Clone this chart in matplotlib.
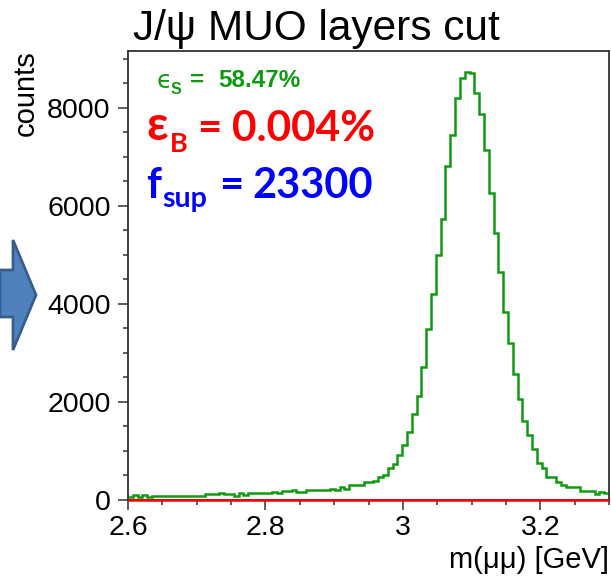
import numpy as np
import matplotlib
matplotlib.use("Agg")
import matplotlib.pyplot as plt
from matplotlib.patches import Polygon
from matplotlib.ticker import FixedLocator, MultipleLocator

# ---- histogram definition -------------------------------------------------
x_min, x_max, n_bins = 2.6, 3.3, 100

# signal candidates passing the MUO-layers cut (counts per 7 MeV bin)
sig_counts = [
    68, 95, 61, 95, 61, 88, 88, 88, 88, 88,
    88, 88, 88, 88, 88, 88, 116, 116, 116, 140,
    115, 115, 80, 137, 110, 143, 143, 143, 143, 143,
    172, 150, 175, 175, 205, 172, 172, 206, 206, 206,
    206, 206, 230, 200, 255, 225, 300, 300, 300, 357,
    357, 394, 463, 515, 647, 735, 910, 1130, 1394, 1749,
    2123, 2708, 3490, 4198, 4990, 5729, 6803, 7443, 8190, 8607,
    8721, 8718, 8301, 7872, 7129, 6260, 5443, 4643, 3843, 3204,
    2572, 2055, 1602, 1316, 1041, 749, 647, 476, 476, 374,
    306, 259, 259, 259, 184, 184, 184, 122, 170, 137,
]
# background remaining after the cut (empty at this scale)
bkg_counts = [0] * n_bins

x_ticks = [2.6, 2.8, 3.0, 3.2]
x_tick_labels = ["2.6", "2.8", "3", "3.2"]
y_ticks = [0, 2000, 4000, 6000, 8000]
y_tick_labels = ["0", "2000", "4000", "6000", "8000"]

title = "J/\u03c8 MUO layers cut"
x_title = "m(\u03bc\u03bc) [GeV]"
y_title = "counts"

eff_sig = "58.47%"
eff_bkg = "0.004%"
f_sup = "23300"

# ---- style ------------------------------------------------------------------
GREEN = "#119911"
AXIS = "#333333"
ROOT_FONT = ["Liberation Sans", "DejaVu Sans"]
SLIDE_FONT = ["Lato", "DejaVu Sans"]

W, H = 611, 577
fig = plt.figure(figsize=(W / 100, H / 100), dpi=100)


def fx(x):
    return x / W


def fy(y):
    return 1 - y / H


ax = fig.add_axes([fx(128), fy(500), fx(609) - fx(128), fy(51) - fy(500)])

edges = np.linspace(x_min, x_max, n_bins + 1)
ax.stairs(sig_counts, edges, color=GREEN, lw=1.8, baseline=None, zorder=2)
ax.stairs(bkg_counts, edges, color="#ff0000", lw=1.8, baseline=None,
          zorder=4, clip_on=False)

ax.set_xlim(x_min, x_max)
ax.set_ylim(0, max(sig_counts) * 1.05)

ax.xaxis.set_major_locator(FixedLocator(x_ticks))
ax.xaxis.set_minor_locator(MultipleLocator(0.05))
ax.set_xticklabels(x_tick_labels)
ax.yaxis.set_major_locator(FixedLocator(y_ticks))
ax.yaxis.set_minor_locator(MultipleLocator(500))
ax.set_yticklabels(y_tick_labels)

for sp in ax.spines.values():
    sp.set_color(AXIS)
    sp.set_linewidth(1.3)

ax.tick_params(which="both", direction="out", color=AXIS, width=1.1,
               top=False, right=False)
ax.tick_params(which="major", length=7)
ax.tick_params(which="minor", length=3.6)
ax.tick_params(axis="x", which="major", pad=3.5, labelsize=20.5)
ax.tick_params(axis="y", which="major", pad=5.5, labelsize=20.5)
for lab in ax.get_xticklabels() + ax.get_yticklabels():
    lab.set_family(ROOT_FONT)

# ---- titles -------------------------------------------------------------------
fig.text(fx(133), fy(40), title, family=ROOT_FONT, fontsize=30.5,
         ha="left", va="baseline", color="black")
fig.text(fx(609), fy(568), x_title, family=ROOT_FONT, fontsize=21,
         ha="right", va="baseline", color="black")
fig.text(fx(34), fy(50), y_title, family=ROOT_FONT, fontsize=21,
         rotation=90, rotation_mode="anchor", ha="right", va="baseline",
         color="black")

# ---- efficiency labels -----------------------------------------------------
# signal efficiency
fig.text(fx(157), fy(87.5), "\u03f5", family=["DejaVu Sans"], fontsize=18,
         color=GREEN, ha="left", va="baseline")
fig.text(fx(171), fy(94), "S", family=ROOT_FONT, fontsize=11.5,
         fontweight="bold", color=GREEN, ha="left", va="baseline")
fig.text(fx(190), fy(87), "=", family=ROOT_FONT, fontsize=17.5,
         fontweight="bold", color=GREEN, ha="left", va="baseline")
fig.text(fx(218), fy(87), eff_sig, family=ROOT_FONT, fontsize=17.5,
         fontweight="bold", color=GREEN, ha="left", va="baseline")

# background efficiency
fig.text(fx(146), fy(140), "\u03b5", family=SLIDE_FONT, fontsize=34,
         fontweight="bold", color="#ff0000", ha="left", va="baseline")
fig.text(fx(170), fy(152), "B", family=SLIDE_FONT, fontsize=19.5,
         fontweight="bold", color="#ff0000", ha="left", va="baseline")
fig.text(fx(197), fy(141), "=", family=SLIDE_FONT, fontsize=30,
         fontweight="bold", color="#ff0000", ha="left", va="baseline")
fig.text(fx(232), fy(141), eff_bkg, family=SLIDE_FONT, fontsize=30.5,
         fontweight="bold", color="#ff0000", ha="left", va="baseline")

# suppression factor
fig.text(fx(146), fy(198), "f", family=SLIDE_FONT, fontsize=30,
         fontweight="bold", color="#0000ff", ha="left", va="baseline")
fig.text(fx(162), fy(207), "sup", family=SLIDE_FONT, fontsize=20.5,
         fontweight="bold", color="#0000ff", ha="left", va="baseline")
fig.text(fx(219), fy(198), "=", family=SLIDE_FONT, fontsize=30,
         fontweight="bold", color="#0000ff", ha="left", va="baseline")
fig.text(fx(252), fy(198), f_sup, family=SLIDE_FONT, fontsize=30,
         fontweight="bold", color="#0000ff", ha="left", va="baseline")

# ---- slide arrow pointing at the plot ---------------------------------------
arrow_px = [(0, 270), (13, 270), (13, 240), (36, 295), (13, 350),
            (13, 317), (0, 317)]
arrow = Polygon([(fx(x), fy(y)) for x, y in arrow_px], closed=True,
                transform=fig.transFigure, facecolor="#4f81bd",
                edgecolor="#385d8a", linewidth=2.0, zorder=5)
fig.patches.append(arrow)

fig.savefig("out.png", dpi=100)
